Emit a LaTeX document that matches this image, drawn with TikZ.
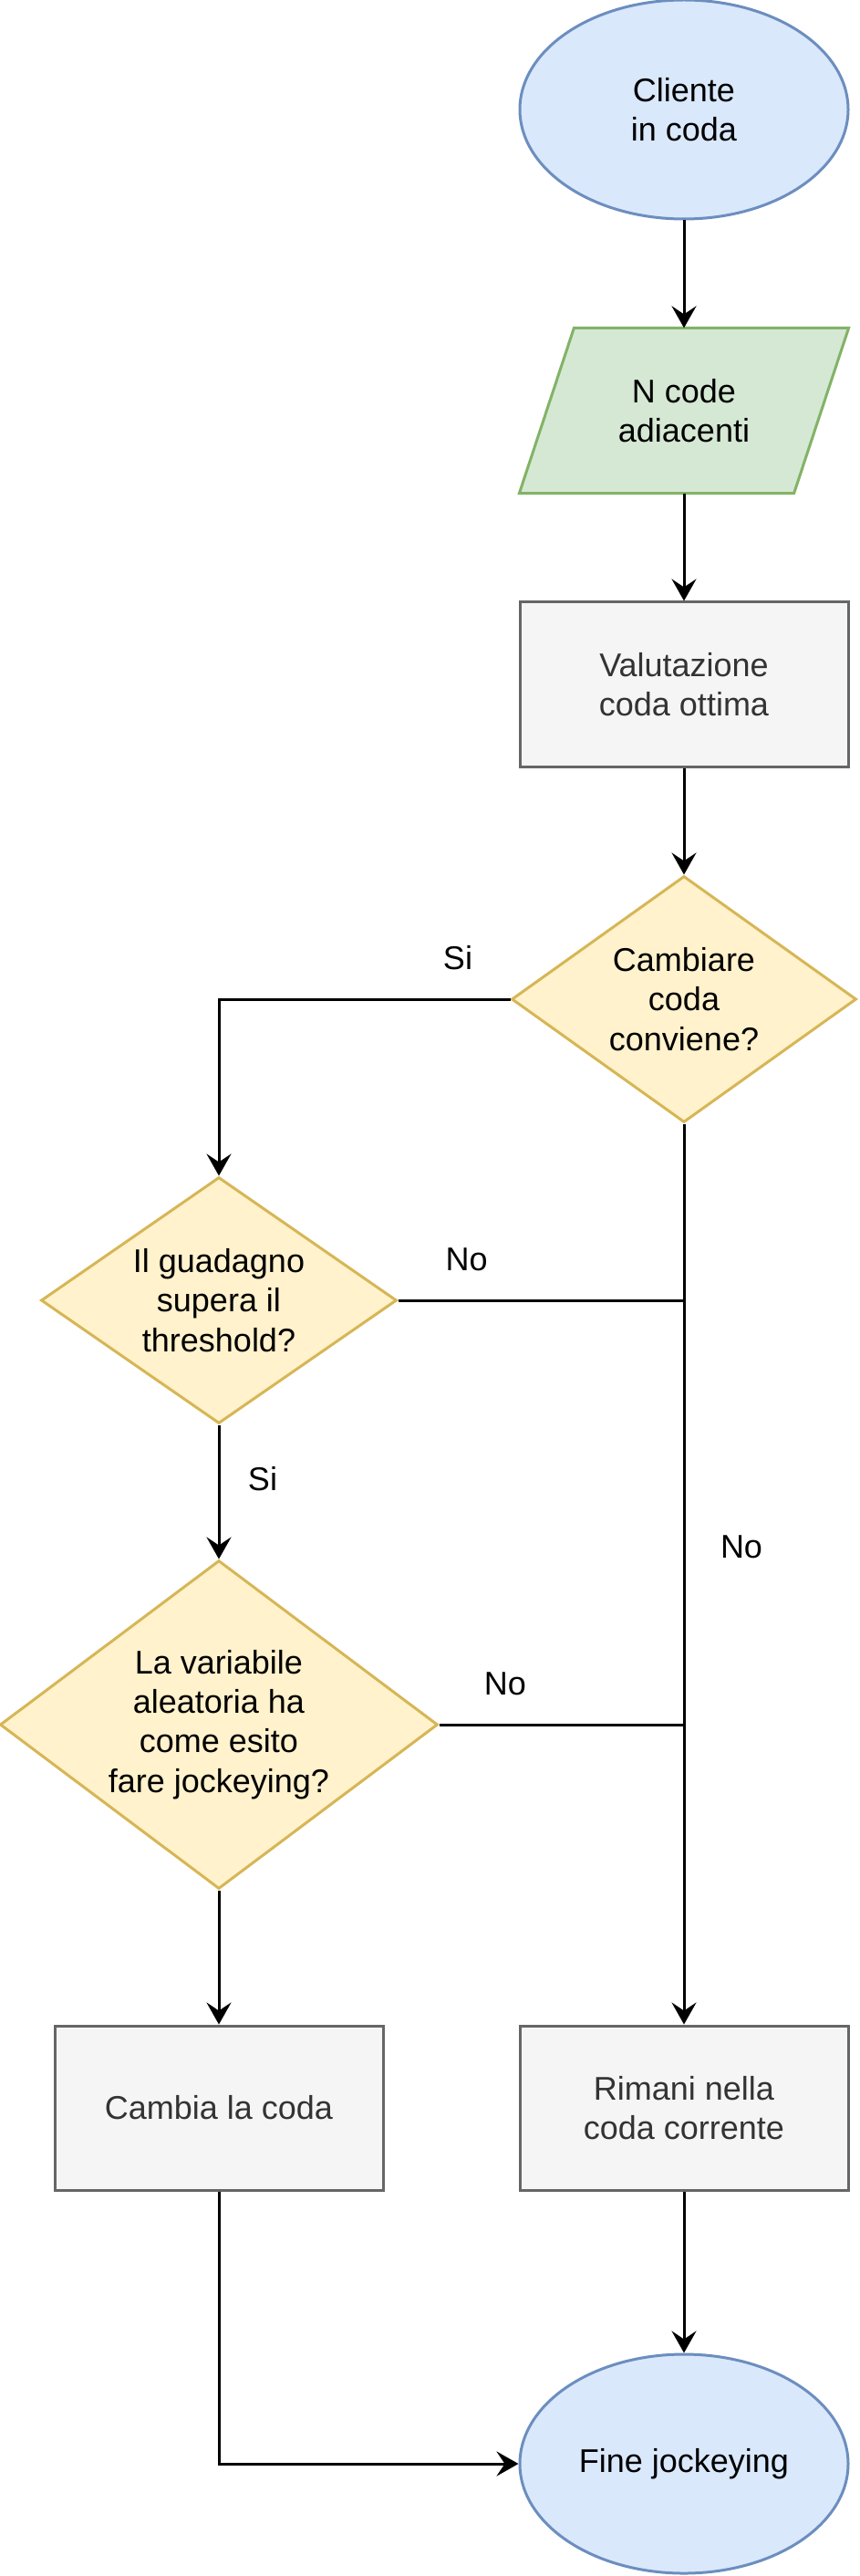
\documentclass[tikz,border=0pt]{standalone}
\usepackage{fontspec}
\setmainfont{Liberation Sans}
\usepackage{xcolor}
\usepackage{tikz}
\usetikzlibrary{arrows.meta,shapes.geometric,backgrounds}

\definecolor{bluF}{HTML}{DAE8FC}
\definecolor{bluD}{HTML}{6C8EBF}
\definecolor{verF}{HTML}{D5E8D4}
\definecolor{verD}{HTML}{82B366}
\definecolor{griF}{HTML}{F5F5F5}
\definecolor{griD}{HTML}{666666}
\definecolor{griT}{HTML}{333333}
\definecolor{gialF}{HTML}{FFF2CC}
\definecolor{gialD}{HTML}{D6B656}

\begin{document}
\begin{tikzpicture}[x=1pt, y=-1pt, font=\fontsize{12}{14.4}\selectfont,
        base/.style={draw, line width=1pt, align=center, inner sep=0pt},
        term/.style={base, ellipse, fill=bluF, draw=bluD, minimum width=120pt, minimum height=80pt},
        inp/.style={align=center, inner sep=0pt, minimum width=120pt, minimum height=60pt},
        proc/.style={base, rectangle, fill=griF, draw=griD, text=griT, minimum width=120pt, minimum height=60pt},
        dec/.style={base, diamond, fill=gialF, draw=gialD},
        line/.style={line width=1pt},
        arr/.style={line, -{Stealth[length=8pt, width=9pt, inset=3pt]}},
        lbl/.style={inner sep=0pt}]
        %\draw[help lines] (0,0) grid[step=10pt] (314,941);
        \useasboundingbox (0,0) rectangle (314,941);
        \node[term] (cliente) at (250,40) {Cliente\\in coda};
        \node[inp] (ncode) at (250,150) {N code\\adiacenti};
        \begin{scope}[on background layer]
            \draw[line, fill=verF, draw=verD] ([xshift=20pt]ncode.north west) -- (ncode.north east)
                -- ([xshift=-20pt]ncode.south east) -- (ncode.south west) -- cycle;
        \end{scope}
        \node[proc] (valuta) at (250,250) {Valutazione\\coda ottima};
        \node[dec, aspect=1.4, minimum width=126pt, minimum height=90pt] (cambiare) at (250,365) {Cambiare\\coda\\conviene?};
        \node[dec, aspect=1.44, minimum width=130pt, minimum height=90pt] (guadagno) at (80,475) {Il guadagno\\supera il\\threshold?};
        \node[dec, aspect=1.33, inner sep=-2pt, minimum width=160pt, minimum height=120pt] (aleatoria) at (80,630) {La variabile\\aleatoria ha\\come esito\\fare jockeying?};
        \node[proc] (cambia) at (80,770) {Cambia la coda};
        \node[proc] (rimani) at (250,770) {Rimani nella\\coda corrente};
        \node[term] (fine) at (250,900) {Fine jockeying};
        \coordinate (j1) at (guadagno.east -| rimani.north);
        \coordinate (j2) at (aleatoria.east -| rimani.north);
        \draw[arr] (cliente) -- (ncode);
        \draw[arr] (ncode) -- (valuta);
        \draw[arr] (valuta) -- (cambiare);
        \draw[arr] (cambiare.west) -| node[lbl, pos=0.09, yshift=15pt] (si1) {Si} (guadagno.north);
        \draw[arr] (cambiare.south) -- node[lbl, pos=0.47, xshift=21pt] (no1) {No} (rimani.north);
        \draw[line] (guadagno.east) -- node[lbl, pos=0.24, yshift=15pt] (no2) {No} (j1);
        \draw[arr] (guadagno.south) -- node[lbl, pos=0.4, xshift=16pt] (si2) {Si} (aleatoria.north);
        \draw[line] (aleatoria.east) -- node[lbl, pos=0.27, yshift=15pt] (no3) {No} (j2);
        \draw[arr] (aleatoria.south) -- (cambia.north);
        \draw[arr] (rimani) -- (fine);
        \draw[arr] (cambia.south) |- (fine.west);
    \end{tikzpicture}
\end{document}
